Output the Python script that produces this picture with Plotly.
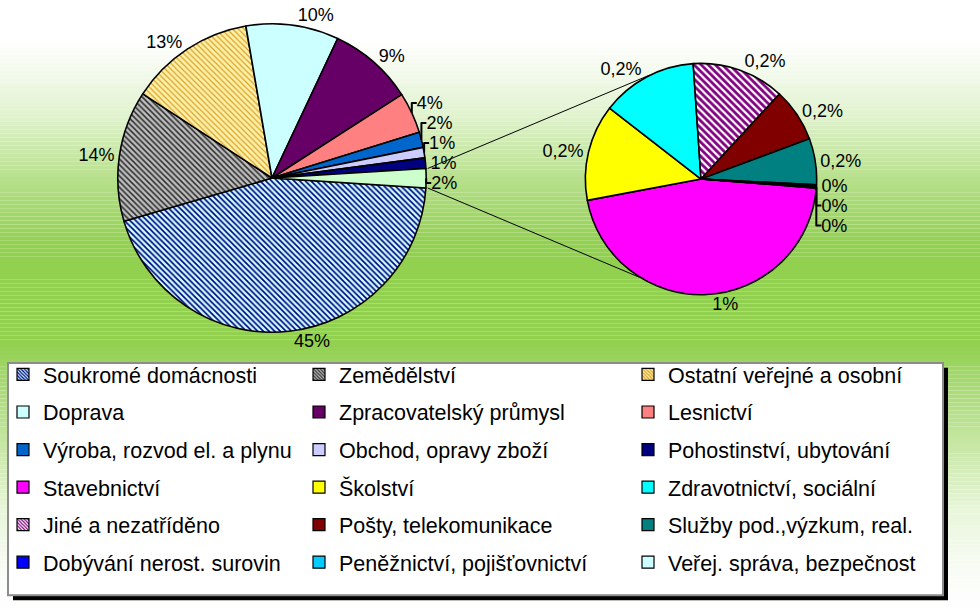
import plotly.graph_objects as go
import math

# ---------------- data ----------------
main_labels = ["Soukromé domácnosti", "Zemědělství", "Ostatní veřejné a osobní",
               "Doprava", "Zpracovatelský průmysl", "Lesnictví",
               "Výroba, rozvod el. a plynu", "Obchod, opravy zboží",
               "Pohostinství, ubytování"]
main_values = [44.4, 13.7, 13.1, 9.7, 8.9, 4.3, 1.6, 1.1, 1.1]
main_text = ["45%", "14%", "13%", "10%", "9%", "4%", "2%", "1%", "1%"]

sec_labels = ["Stavebnictví", "Školství", "Zdravotnictví, sociální",
              "Jiné a nezatříděno", "Pošty, telekomunikace",
              "Služby pod.,výzkum, real.", "Dobývání nerost. surovin",
              "Peněžnictví, pojišťovnictví", "Veřej. správa, bezpečnost"]
sec_values = [0.92, 0.27, 0.27, 0.26, 0.15, 0.13, 0.004, 0.003, 0.002]
sec_text = ["1%", "0,2%", "0,2%", "0,2%", "0,2%", "0,2%", "0%", "0%", "0%"]

other_label = "Ostatní odvětví"
other_text = "2%"

# ---------------- styles ----------------
main_colors = ["#CCFFFF", "#C0C0C0", "#FFF2A8", "#CCFFFF", "#660066", "#FF8080",
               "#0066CC", "#CCCCFF", "#000080"]
main_shapes = ["\\", "\\", "\\", "", "", "", "", "", ""]
main_fg = ["#000080", "#303030", "#D9A02A", "", "", "", "", "", ""]
main_solid = [0.4, 0.4, 0.3, 0.4, 0.4, 0.4, 0.4, 0.4, 0.4]
other_color = "#CCFFCC"

sec_colors = ["#FF00FF", "#FFFF00", "#00FFFF", "#FFFFFF", "#800000", "#008080",
              "#0000FF", "#00CCFF", "#CCFFFF"]
sec_shapes = ["", "", "", "\\", "", "", "", "", ""]
sec_fg = ["", "", "", "#800080", "", "", "", "", ""]

FONT = "Arial, Liberation Sans, sans-serif"
W, H = 980, 614

# pie geometry (pixels)
MAIN_CX, MAIN_CY, MAIN_R = 272, 173, 156
SEC_CX, SEC_CY, SEC_R = 701, 174, 117
MAIN_ROT = 93.7
SEC_ROT = 94.5
SEC_TOP_ANGLE, SEC_BOT_ANGLE = 334, 212


def dom(cx, cy, r):
    return dict(x=[(cx - r) / W, (cx + r) / W], y=[1 - (cy + r) / H, 1 - (cy - r) / H])


fig = go.Figure()

# ---------------- background gradient ----------------
green = (146, 208, 80)
keys = [(0, 0.0), (35, 0.0), (110, 0.28), (190, 0.75), (240, 1.0), (340, 1.0),
        (420, 0.62), (510, 0.2), (580, 0.04), (614, 0.0)]


def level(y):
    for (y0, f0), (y1, f1) in zip(keys[:-1], keys[1:]):
        if y0 <= y <= y1:
            return f0 + (f1 - f0) * (y - y0) / (y1 - y0)
    return 0.0


shapes = []
step = 4
for y in range(0, H, step):
    f = level(y + step / 2)
    c = tuple(round(255 + (g - 255) * f) for g in green)
    shapes.append(dict(type="rect", xref="paper", yref="paper", layer="below",
                       x0=0, x1=1, y0=1 - (y + step) / H, y1=1 - y / H,
                       line=dict(width=0), fillcolor="rgb(%d,%d,%d)" % c))

# ---------------- pies ----------------
all_main_labels = main_labels + [other_label]
all_main_values = main_values + [sum(sec_values)]
fig.add_trace(go.Pie(
    labels=all_main_labels, values=all_main_values,
    text=main_text + [other_text], textinfo="text",
    textposition="outside", sort=False, direction="clockwise",
    rotation=MAIN_ROT, domain=dom(MAIN_CX, MAIN_CY, MAIN_R),
    marker=dict(colors=main_colors + [other_color],
                line=dict(color="black", width=1.6),
                pattern=dict(shape=main_shapes + [""],
                             fgcolor=[c if c else "black" for c in main_fg] + ["black"],
                             bgcolor=main_colors + [other_color],
                             size=4, solidity=main_solid + [0.4], fillmode="replace")),
    textfont=dict(family=FONT, size=18, color="black"),
    showlegend=False, hoverinfo="label+percent",
))

fig.add_trace(go.Pie(
    labels=sec_labels, values=sec_values,
    text=sec_text, textinfo="text",
    textposition="outside", sort=False, direction="clockwise",
    rotation=SEC_ROT, domain=dom(SEC_CX, SEC_CY, SEC_R),
    marker=dict(colors=sec_colors,
                line=dict(color="black", width=1.6),
                pattern=dict(shape=sec_shapes,
                             fgcolor=[c if c else "black" for c in sec_fg],
                             bgcolor=sec_colors,
                             size=5, solidity=0.55, fillmode="replace")),
    textfont=dict(family=FONT, size=18, color="black"),
    showlegend=False, hoverinfo="label+value",
))

# ---------------- connector lines ----------------
total_main = sum(all_main_values)
th_s = math.radians(MAIN_ROT + 360 * sum(main_values) / total_main)
th_e = math.radians(MAIN_ROT + 360)


def pt(cx, cy, r, th):
    return cx + r * math.sin(th), cy - r * math.cos(th)


for th_m, th_2 in [(th_s, math.radians(SEC_TOP_ANGLE)), (th_e, math.radians(SEC_BOT_ANGLE))]:
    x0, y0 = pt(MAIN_CX, MAIN_CY, MAIN_R, th_m)
    x1, y1 = pt(SEC_CX, SEC_CY, SEC_R, th_2)
    shapes.append(dict(type="line", xref="paper", yref="paper", layer="below",
                       x0=x0 / W, y0=1 - y0 / H, x1=x1 / W, y1=1 - y1 / H,
                       line=dict(color="black", width=1)))

# ---------------- legend box ----------------
LX0, LX1, LY0, LY1 = 8, 943, 360, 595
shapes.append(dict(type="rect", xref="paper", yref="paper", layer="below",
                   x0=(LX0 + 5) / W, x1=(LX1 + 5) / W, y0=1 - (LY1 + 5) / H, y1=1 - (LY0 + 5) / H,
                   line=dict(width=0), fillcolor="black"))
shapes.append(dict(type="rect", xref="paper", yref="paper", layer="below",
                   x0=LX0 / W, x1=LX1 / W, y0=1 - LY1 / H, y1=1 - LY0 / H,
                   line=dict(color="#8C8C8C", width=2), fillcolor="white"))

# legend entries (row-major across 3 columns)
leg_labels = main_labels + sec_labels
leg_colors = main_colors + sec_colors
leg_shapes = main_shapes + sec_shapes
leg_fg = main_fg + sec_fg
legend_names = ["legend", "legend2", "legend3"]
for i, lab in enumerate(leg_labels):
    fig.add_trace(go.Bar(
        x=[None], y=[None], name=lab, legend=legend_names[i % 3], legendgroup=lab,
        marker=dict(color=leg_colors[i], line=dict(color="black", width=1.2),
                    pattern=dict(shape=leg_shapes[i], fgcolor=leg_fg[i] or "black",
                                 bgcolor=leg_colors[i], size=3, solidity=0.5,
                                 fillmode="replace")),
        hoverinfo="skip", showlegend=True,
    ))

col_text_x = [43, 339, 668]
LEG_TOP = 351
leg_common = dict(yanchor="top", xanchor="left", orientation="v",
                  bgcolor="rgba(0,0,0,0)", borderwidth=0, tracegroupgap=6.6,
                  font=dict(family=FONT, size=21.5, color="black"),
                  itemclick=False, itemdoubleclick=False)
layout_legends = {}
for name, tx in zip(legend_names, col_text_x):
    layout_legends[name] = dict(x=(tx - 40) / W, y=1 - LEG_TOP / H, **leg_common)

fig.update_layout(
    width=W, height=H, margin=dict(l=0, r=0, t=0, b=0),
    paper_bgcolor="white", plot_bgcolor="rgba(0,0,0,0)",
    xaxis=dict(visible=False), yaxis=dict(visible=False),
    shapes=shapes, showlegend=True,
    font=dict(family=FONT, color="black"),
    **layout_legends,
)

fig.write_html("out.html", config={"displayModeBar": False},
               post_script="document.body.style.margin='0';")
